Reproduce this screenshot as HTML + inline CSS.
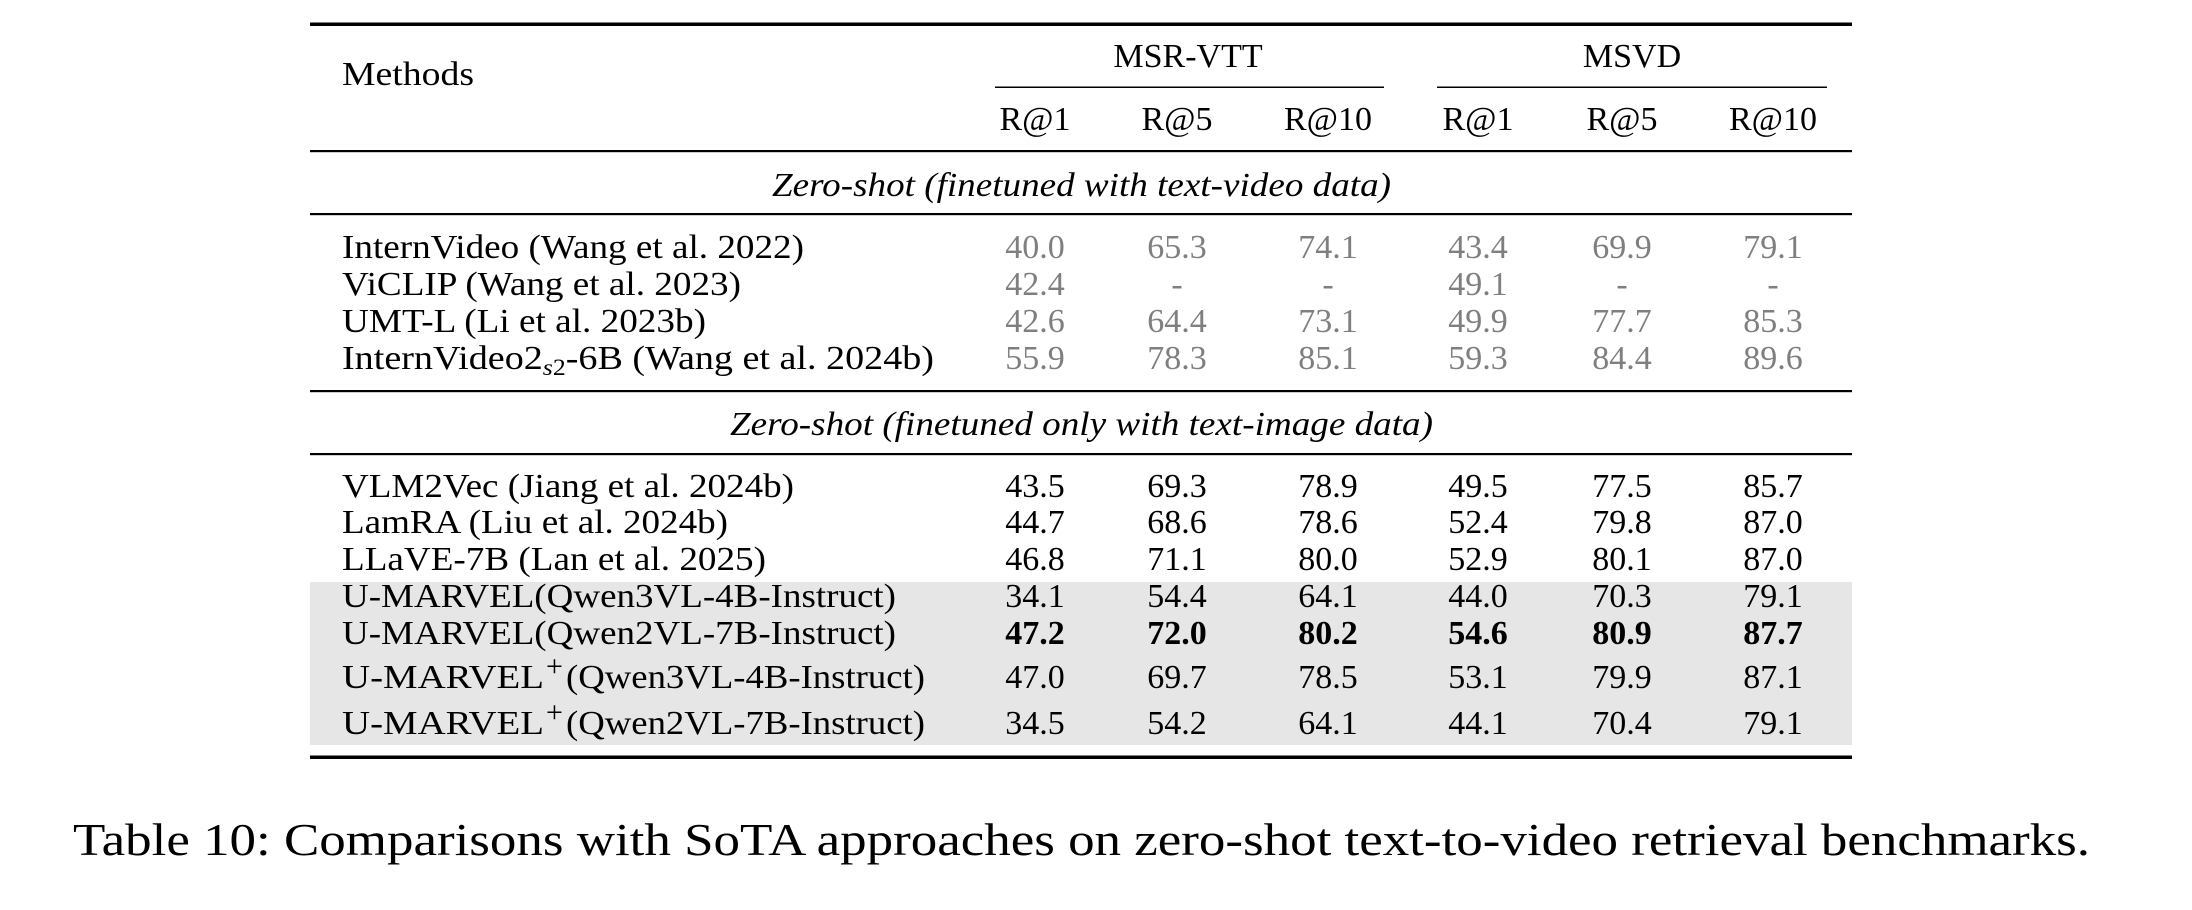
<!DOCTYPE html>
<html><head><meta charset="utf-8"><style>
html,body{margin:0;padding:0;background:#fff;}
svg{display:block;}
text{font-family:"Liberation Serif","Times New Roman",serif;font-size:34px;fill:#000;}
.g{fill:#7f7f7f;}
.c{text-anchor:middle;}
.b{font-weight:bold;}
.i{font-style:italic;}
</style></head><body>
<svg width="2192" height="910" viewBox="0 0 2192 910" xmlns="http://www.w3.org/2000/svg">
<rect x="310" y="582" width="1542" height="163" fill="#e6e6e6"/>
<rect x="310" y="22.5" width="1542" height="3.5" fill="#000"/>
<rect x="995" y="86.5" width="389" height="1.5" fill="#000"/>
<rect x="1437" y="86.5" width="390" height="1.5" fill="#000"/>
<rect x="310" y="150" width="1542" height="2.2" fill="#000"/>
<rect x="310" y="213" width="1542" height="2.2" fill="#000"/>
<rect x="310" y="390" width="1542" height="2.2" fill="#000"/>
<rect x="310" y="453" width="1542" height="2.2" fill="#000"/>
<rect x="310" y="755.5" width="1542" height="3.5" fill="#000"/>

<text x="342" y="85" textLength="132" lengthAdjust="spacingAndGlyphs">Methods</text>
<text x="1188" y="67" class="c">MSR-VTT</text>
<text x="1632" y="67" class="c">MSVD</text>
<g>
<text x="1035" y="130" class="c">R@1</text>
<text x="1177" y="130" class="c">R@5</text>
<text x="1328" y="130" class="c">R@10</text>
<text x="1478" y="130" class="c">R@1</text>
<text x="1622" y="130" class="c">R@5</text>
<text x="1773" y="130" class="c">R@10</text>
</g>
<text x="772" y="196" class="i" textLength="619" lengthAdjust="spacingAndGlyphs">Zero-shot (finetuned with text-video data)</text>

<text x="342" y="258" textLength="462" lengthAdjust="spacingAndGlyphs">InternVideo (Wang et al. 2022)</text>
<text x="342" y="295" textLength="399" lengthAdjust="spacingAndGlyphs">ViCLIP (Wang et al. 2023)</text>
<text x="342" y="332" textLength="364" lengthAdjust="spacingAndGlyphs">UMT-L (Li et al. 2023b)</text>
<text x="342" y="369" textLength="592" lengthAdjust="spacingAndGlyphs">InternVideo2<tspan class="i" font-size="23" dy="6">s</tspan><tspan font-size="23">2</tspan><tspan dy="-6">-6B (Wang et al. 2024b)</tspan></text>

<g class="g">
<text x="1035" y="258" class="c g">40.0</text><text x="1177" y="258" class="c g">65.3</text><text x="1328" y="258" class="c g">74.1</text><text x="1478" y="258" class="c g">43.4</text><text x="1622" y="258" class="c g">69.9</text><text x="1773" y="258" class="c g">79.1</text>
<text x="1035" y="295" class="c g">42.4</text><text x="1177" y="295" class="c g">-</text><text x="1328" y="295" class="c g">-</text><text x="1478" y="295" class="c g">49.1</text><text x="1622" y="295" class="c g">-</text><text x="1773" y="295" class="c g">-</text>
<text x="1035" y="332" class="c g">42.6</text><text x="1177" y="332" class="c g">64.4</text><text x="1328" y="332" class="c g">73.1</text><text x="1478" y="332" class="c g">49.9</text><text x="1622" y="332" class="c g">77.7</text><text x="1773" y="332" class="c g">85.3</text>
<text x="1035" y="369" class="c g">55.9</text><text x="1177" y="369" class="c g">78.3</text><text x="1328" y="369" class="c g">85.1</text><text x="1478" y="369" class="c g">59.3</text><text x="1622" y="369" class="c g">84.4</text><text x="1773" y="369" class="c g">89.6</text>
</g>

<text x="730" y="435" class="i" textLength="703" lengthAdjust="spacingAndGlyphs">Zero-shot (finetuned only with text-image data)</text>

<text x="342" y="497" textLength="452" lengthAdjust="spacingAndGlyphs">VLM2Vec (Jiang et al. 2024b)</text>
<text x="342" y="533" textLength="386" lengthAdjust="spacingAndGlyphs">LamRA (Liu et al. 2024b)</text>
<text x="342" y="570" textLength="424" lengthAdjust="spacingAndGlyphs">LLaVE-7B (Lan et al. 2025)</text>
<text x="342" y="607" textLength="554" lengthAdjust="spacingAndGlyphs">U-MARVEL(Qwen3VL-4B-Instruct)</text>
<text x="342" y="644" textLength="554" lengthAdjust="spacingAndGlyphs">U-MARVEL(Qwen2VL-7B-Instruct)</text>
<text x="342" y="688" textLength="202" lengthAdjust="spacingAndGlyphs">U-MARVEL</text>
<text x="546" y="676" font-size="30" style="font-size:30px">+</text>
<text x="566" y="688" textLength="359" lengthAdjust="spacingAndGlyphs">(Qwen3VL-4B-Instruct)</text>
<text x="342" y="734" textLength="202" lengthAdjust="spacingAndGlyphs">U-MARVEL</text>
<text x="546" y="722" font-size="30" style="font-size:30px">+</text>
<text x="566" y="734" textLength="359" lengthAdjust="spacingAndGlyphs">(Qwen2VL-7B-Instruct)</text>

<text x="1035" y="497" class="c">43.5</text><text x="1177" y="497" class="c">69.3</text><text x="1328" y="497" class="c">78.9</text><text x="1478" y="497" class="c">49.5</text><text x="1622" y="497" class="c">77.5</text><text x="1773" y="497" class="c">85.7</text>
<text x="1035" y="533" class="c">44.7</text><text x="1177" y="533" class="c">68.6</text><text x="1328" y="533" class="c">78.6</text><text x="1478" y="533" class="c">52.4</text><text x="1622" y="533" class="c">79.8</text><text x="1773" y="533" class="c">87.0</text>
<text x="1035" y="570" class="c">46.8</text><text x="1177" y="570" class="c">71.1</text><text x="1328" y="570" class="c">80.0</text><text x="1478" y="570" class="c">52.9</text><text x="1622" y="570" class="c">80.1</text><text x="1773" y="570" class="c">87.0</text>
<text x="1035" y="607" class="c">34.1</text><text x="1177" y="607" class="c">54.4</text><text x="1328" y="607" class="c">64.1</text><text x="1478" y="607" class="c">44.0</text><text x="1622" y="607" class="c">70.3</text><text x="1773" y="607" class="c">79.1</text>
<text x="1035" y="644" class="c b">47.2</text><text x="1177" y="644" class="c b">72.0</text><text x="1328" y="644" class="c b">80.2</text><text x="1478" y="644" class="c b">54.6</text><text x="1622" y="644" class="c b">80.9</text><text x="1773" y="644" class="c b">87.7</text>
<text x="1035" y="688" class="c">47.0</text><text x="1177" y="688" class="c">69.7</text><text x="1328" y="688" class="c">78.5</text><text x="1478" y="688" class="c">53.1</text><text x="1622" y="688" class="c">79.9</text><text x="1773" y="688" class="c">87.1</text>
<text x="1035" y="734" class="c">34.5</text><text x="1177" y="734" class="c">54.2</text><text x="1328" y="734" class="c">64.1</text><text x="1478" y="734" class="c">44.1</text><text x="1622" y="734" class="c">70.4</text><text x="1773" y="734" class="c">79.1</text>

<text x="73" y="855" font-size="46" style="font-size:46px" textLength="2017" lengthAdjust="spacingAndGlyphs">Table 10: Comparisons with SoTA approaches on zero-shot text-to-video retrieval benchmarks.</text>
</svg>
</body></html>
